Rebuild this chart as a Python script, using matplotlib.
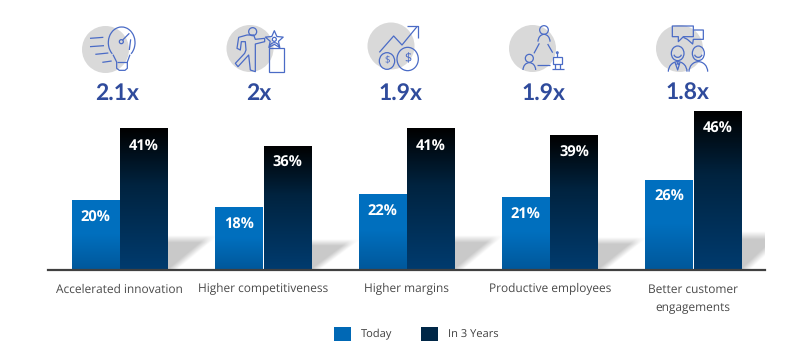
import numpy as np
import matplotlib
matplotlib.use("Agg")
import matplotlib.pyplot as plt
from matplotlib.colors import LinearSegmentedColormap
from matplotlib.patches import Arc, Circle, Ellipse, Patch, Polygon, Rectangle

plt.rcParams["font.family"] = ["Open Sans", "DejaVu Sans"]
plt.rcParams["text.hinting"] = "no_hinting"

categories = ["Accelerated innovation", "Higher competitiveness", "Higher margins",
              "Productive employees", "Better customer\nengagements"]
today = [20, 18, 22, 21, 26]
in_3_years = [41, 36, 41, 39, 46]
multipliers = ["2.1x", "2x", "1.9x", "1.9x", "1.8x"]
series_names = ["Today", "In 3 Years"]

W, H = 798, 353
BASE_Y = 269
PX_PER_PCT = 3.43
ICON = "#4a6bc6"
GREY = "#d9d9d9"

today_cmap = LinearSegmentedColormap.from_list("today", [(0, "#0070c0"), (0.5, "#006fbe"), (1, "#00589b")])
years_cmap = LinearSegmentedColormap.from_list("years", [(0, "#000000"), (0.4, "#00233f"), (1, "#003b6e")])

fig = plt.figure(figsize=(W / 100, H / 100), dpi=100)
ax = fig.add_axes([48 / W, 1 - BASE_Y / H, 717 / W, 169 / H])
ax.set_facecolor("none")
ylim_top = 169 / PX_PER_PCT
x = np.arange(len(categories))
bar_w = 47.5 / 143.4
off = 24.2 / 143.4


def gradient_bar(xc, value, cmap):
    bar = ax.bar(xc, value, bar_w, color="none", zorder=3)[0]
    grad = np.linspace(0, 1, 128).reshape(-1, 1)
    im = ax.imshow(grad, cmap=cmap, aspect="auto", zorder=3, vmin=0, vmax=1,
                   extent=[xc - bar_w / 2, xc + bar_w / 2, 0, value])
    im.set_clip_path(bar)


def shadow(x0, value):
    # soft grey floor shadow behind the tall bar
    height = value * 0.235
    width = 50 / 143.4
    v, u = np.mgrid[1:0:64j, 0:1:128j]
    edge = 0.2 + v * 0.8 - u
    alpha = np.clip(edge / 0.2, 0, 1) * np.clip((1 - v) / 0.22, 0, 1)
    rgba = np.zeros((64, 128, 4))
    rgba[..., :3] = 0.79
    rgba[..., 3] = alpha
    ax.imshow(rgba, aspect="auto", zorder=1, extent=[x0, x0 + width, 0, height])


for i in x:
    shadow(i + off + bar_w / 2, in_3_years[i])
    gradient_bar(i - off, today[i], today_cmap)
    gradient_bar(i + off, in_3_years[i], years_cmap)
    for xc, val in ((i - off, today[i]), (i + off, in_3_years[i])):
        ax.annotate(f"{val}%", (xc, val), xytext=(0, -12.5), textcoords="offset points",
                    ha="center", va="center", color="white", fontsize=10.5, fontweight="bold", zorder=5)

# spine position first, it resets the ticks
for side in ["left", "right", "top"]:
    ax.spines[side].set_visible(False)
ax.spines["bottom"].set_color("#404040")
ax.spines["bottom"].set_linewidth(1.6)
ax.spines["bottom"].set_position(("outward", 0.8))
ax.spines["bottom"].set_zorder(6)

ax.set_xlim(-0.5, 4.5)
ax.set_ylim(0, ylim_top)
ax.set_yticks([])
ax.set_xticks(x)
ax.set_xticklabels(categories, fontsize=8.6, color="#4a4a4a", linespacing=1.72)
ax.tick_params(axis="x", length=0, pad=9.5)

# overlay in pixel coordinates for the icons and the big multipliers
ov = fig.add_axes([0, 0, 1, 1], zorder=-1)
ov.set_xlim(0, W)
ov.set_ylim(H, 0)
ov.axis("off")

circle_pos = [(105.5, 49.5), (250, 48.5), (391, 46), (532.5, 48.5), (679.5, 48.5)]
mult_x = [116.7, 259, 400, 543, 687]
for (cx, cy), mx, label in zip(circle_pos, mult_x, multipliers):
    ov.add_patch(Circle((cx, cy), 23.5, color=GREY, lw=0, zorder=1))
    ov.text(mx, 93.5, label, ha="center", va="center", fontsize=16.5, fontweight="bold", color="#2f4b9c",
            family=["Lato", "DejaVu Sans"])


class Icon:
    """helper: coordinates read at 3x zoom with crop origin ox, oy"""

    def __init__(self, ox, oy):
        self.ox, self.oy = ox, oy

    def p(self, px, py):
        return self.ox + px / 3, self.oy + py / 3

    def line(self, *pts, closed=False):
        xy = [self.p(*q) for q in pts]
        ov.add_patch(Polygon(xy, closed=closed, fill=False, ec=ICON, lw=0.9, zorder=2, joinstyle="round"))

    def ell(self, cx, cy, rx, ry=None):
        ry = rx if ry is None else ry
        ov.add_patch(Ellipse(self.p(cx, cy), 2 * rx / 3, 2 * ry / 3, fill=False, ec=ICON, lw=0.9, zorder=2))

    def arc(self, cx, cy, rx, ry, t1=180, t2=360):
        ov.add_patch(Arc(self.p(cx, cy), 2 * rx / 3, 2 * ry / 3, theta1=t1, theta2=t2, ec=ICON, lw=0.9, zorder=2))

    def rect(self, x0, y0, x1, y1):
        a = self.p(x0, y0)
        ov.add_patch(Rectangle(a, (x1 - x0) / 3, (y1 - y0) / 3, fill=False, ec=ICON, lw=0.9, zorder=2))


# light bulb
ic = Icon(40, 0)
ic.arc(245, 128, 40, 47, 130, 410)
ic.line((219, 164), (230, 186), (230, 205), (238, 211), (255, 211), (262, 205), (262, 186), (270, 164))
ic.line((230, 186), (262, 186))
ic.line((150, 115), (190, 112))
ic.line((150, 140), (192, 137))
ic.line((166, 163), (205, 159))
ic.line((187, 187), (215, 183))
ic.ell(244, 125, 6)
ic.line((248, 120), (268, 100))
ic.line((272, 118), (268, 150))

# runner and trophy
ic = Icon(222, 20)
ic.ell(92, 35, 12)
ic.line((75, 45), (50, 52), (45, 85), (55, 90), (58, 65), (70, 65), (72, 90), (68, 100), (40, 130), (48, 140),
        (80, 105), (85, 150), (100, 155), (100, 85), (100, 72), (128, 65), (128, 55), (100, 58), (95, 45), closed=True)
star_a = np.deg2rad(np.arange(10) * 36 - 90)
star_r = np.where(np.arange(10) % 2 == 0, 28, 13)
ic.line(*[(157 + r * np.cos(a), 60 + r * np.sin(a)) for a, r in zip(star_a, star_r)], closed=True)
ic.ell(157, 58, 6)
ic.arc(157, 82, 14, 14)
ic.rect(140, 85, 185, 155)

# chart and coins
ic = Icon(362, 20)
ic.line((52, 97), (95, 48), (120, 75), (165, 20))
ic.line((135, 18), (167, 18), (167, 55))
ic.ell(75, 123, 23, 25)
ic.ell(137, 117, 32, 35)
ov.text(*ic.p(75, 123), "$", color=ICON, fontsize=7, ha="center", va="center", zorder=3)
ov.text(*ic.p(137, 117), "$", color=ICON, fontsize=9, ha="center", va="center", zorder=3)

# people and robot
ic = Icon(505, 20)
ic.ell(117, 30, 13)
ic.arc(117, 65, 18, 22)
ic.ell(73, 115, 12)
ic.arc(73, 150, 19, 22)
ic.line((103, 70), (87, 100))
ic.line((128, 72), (143, 98))
ic.line((95, 135), (135, 135))
ic.rect(145, 112, 170, 132)
ic.line((157, 100), (157, 112))
ic.ell(157, 98, 2.5)
ic.line((151, 132), (151, 146))
ic.line((165, 132), (165, 146))
ic.line((140, 146), (178, 146))

# two people with speech bubbles
ic = Icon(650, 20)
ic.line((67, 18), (130, 18), (130, 50), (100, 50), (85, 65), (85, 50), (67, 50), closed=True)
ic.line((130, 30), (160, 30), (160, 58), (130, 58), (128, 72), (112, 58), (100, 52))
ic.ell(83, 100, 19, 22)
ic.ell(145, 100, 18, 22)
ic.arc(83, 100, 12, 12, 20, 160)
ic.arc(145, 100, 12, 12, 20, 160)
ic.arc(83, 155, 28, 30)
ic.arc(145, 155, 28, 30)
ic.line((75, 127), (83, 150), (90, 127))
ic.line((80, 135), (83, 128), (87, 135))

handles = [Patch(color="#0068b5", lw=0), Patch(color="#002747", lw=0)]
fig.legend(handles, series_names, loc="center", bbox_to_anchor=(416 / W, 1 - 334 / H), ncols=2, frameon=False,
           fontsize=8, labelcolor="#404040", handlelength=1.55, handleheight=1.55,
           handletextpad=0.85, columnspacing=2.6, borderpad=0, borderaxespad=0)

fig.savefig("out.png", dpi=100)
